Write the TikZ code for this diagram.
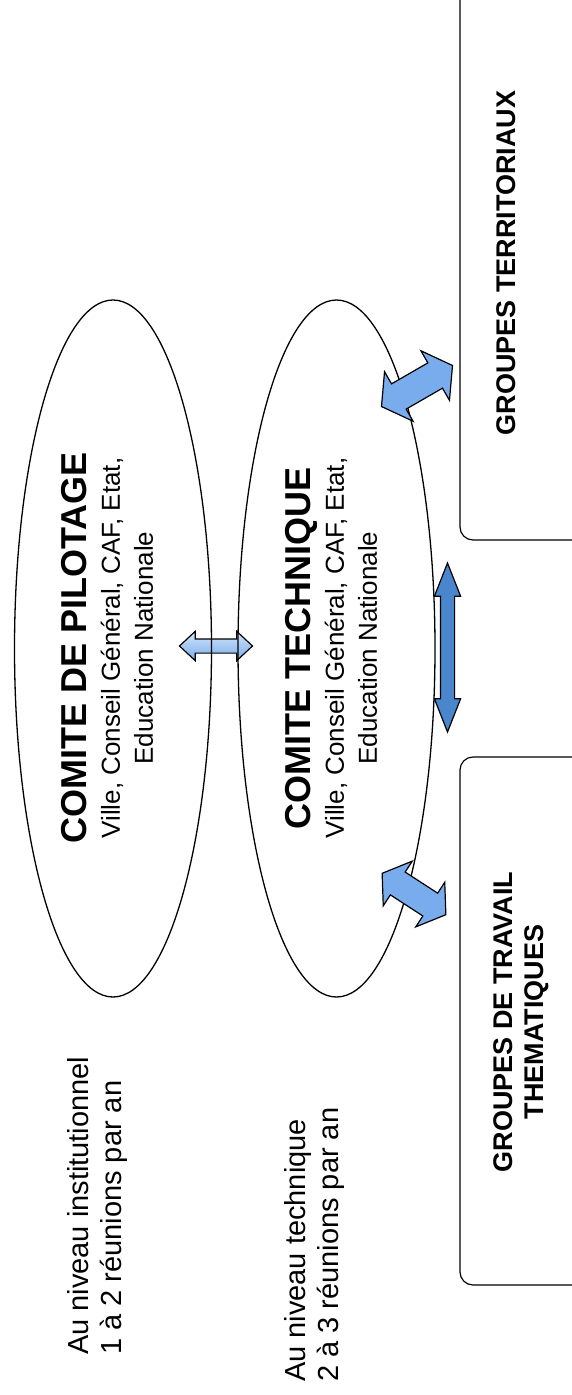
\documentclass[tikz,border=0pt]{standalone}
\usepackage{fontspec}
\setmainfont{Liberation Sans}
\usetikzlibrary{shapes.geometric,shapes.arrows}
\definecolor{paleblue}{RGB}{212,229,250}
\definecolor{midblue}{RGB}{120,172,236}
\definecolor{deepblue}{RGB}{74,134,204}
\begin{document}
\begin{tikzpicture}[x=1pt,y=-1pt,
 comite/.style={draw, ellipse, line width=1.3pt, rotate=90, minimum width=697pt, minimum height=197pt, inner sep=0pt},
 comitetext/.style={rotate=90, align=center, inner sep=0pt, font=\fontsize{26}{33}\selectfont},
 niveau/.style={rotate=90, align=left, anchor=north west, inner sep=0pt, font=\fontsize{29}{33}\selectfont},
 groupbox/.style={draw, rounded corners=13pt, line width=1.2pt, minimum width=180pt, inner sep=0pt},
 grouptext/.style={rotate=90, align=center, inner sep=0pt, font=\fontsize{27}{31}\selectfont\bfseries},
 dblarrow/.style={double arrow, draw, line width=1.2pt, inner xsep=0pt, minimum width=0pt}]
\useasboundingbox (0,0) rectangle (572,1395);
 \node[dblarrow, top color=paleblue, bottom color=midblue, minimum height=73pt, inner ysep=6.5pt, double arrow head extend=7.5pt, double arrow tip angle=86] (link) at (216,646) {};
 \node[comite] (pilotage) at (113,648.5) {};
 \node[comite] (technique) at (336.5,648.5) {};
 \node[comitetext] (pilotagetxt) at (107.5,648) {{\fontsize{36}{33}\selectfont\bfseries COMITE DE PILOTAGE}\\Ville, Conseil Général, CAF, Etat,\\Education Nationale};
 \node[comitetext] (techniquetxt) at (331.5,648) {{\fontsize{36}{33}\selectfont\bfseries COMITE TECHNIQUE}\\Ville, Conseil Général, CAF, Etat,\\Education Nationale};
 \node[niveau] (institutionnel) at (67,1355) {Au niveau institutionnel\\1 à 2 réunions par an};
 \node[niveau] (techn) at (284.5,1382) {Au niveau technique\\2 à 3 réunions par an};
 \node[groupbox, minimum height=554pt] (territoriaux) at (550,263) {};
 \node[groupbox, minimum height=528pt] (thematiques) at (550,1021) {};
 \node[grouptext] (territoriauxtxt) at (506,263) {GROUPES TERRITORIAUX};
 \node[grouptext] (thematiquestxt) at (521.5,1022) {GROUPES DE TRAVAIL\\THEMATIQUES};
 \node[dblarrow, fill=deepblue, rotate=90, minimum height=169pt, inner ysep=6.5pt, double arrow head extend=6pt, double arrow tip angle=43] (exchange) at (447.5,647.5) {};
 \node[dblarrow, fill=midblue, rotate=30, minimum height=82pt, inner ysep=14pt, double arrow head extend=14pt, double arrow tip angle=110] (toterr) at (417,386) {};
 \node[dblarrow, fill=midblue, rotate=-33, minimum height=76pt, inner ysep=13pt, double arrow head extend=13pt, double arrow tip angle=110] (tothem) at (414,894) {};
\end{tikzpicture}
\end{document}
